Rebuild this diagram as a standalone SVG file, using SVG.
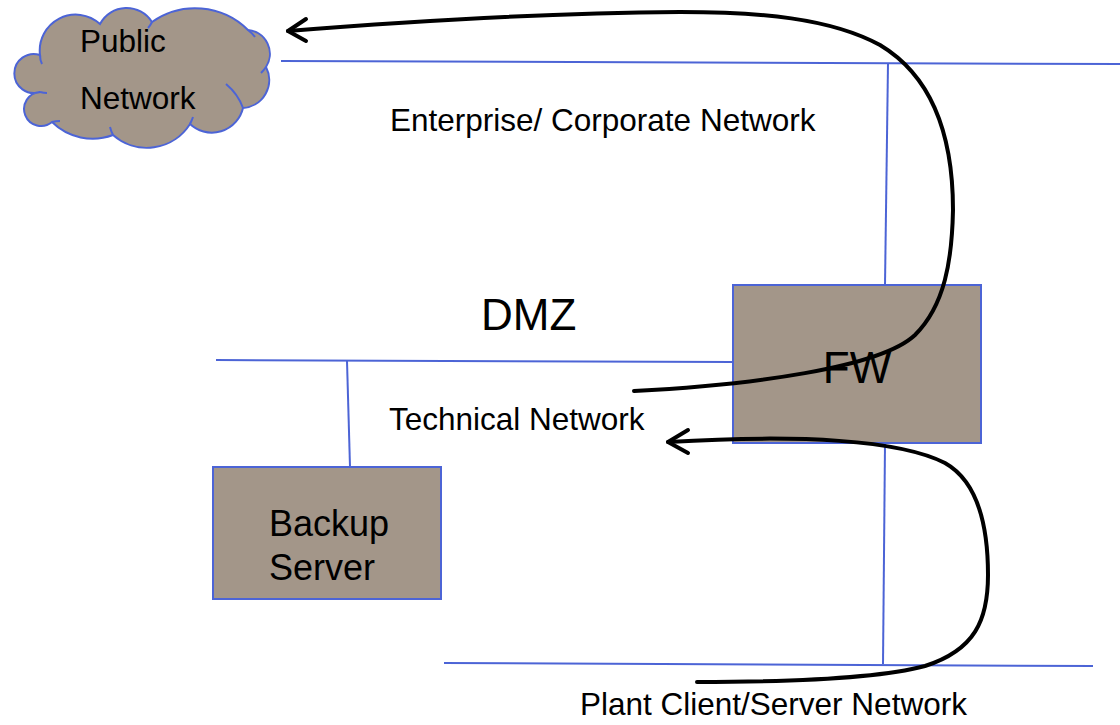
<svg xmlns="http://www.w3.org/2000/svg" width="1120" height="725" viewBox="0 0 1120 725">
<style>
.shape{fill:#A39689;stroke:#4C64D6;stroke-width:2}
.inner{fill:none;stroke:#4C64D6;stroke-width:2}
.net{fill:none;stroke:#4C64D6;stroke-width:2}
.flow{fill:none;stroke:#000;stroke-width:4;stroke-linecap:round;stroke-linejoin:round}
.t{font-family:"Liberation Sans",Arial,sans-serif;fill:#000}
.m{font-size:31.5px}
.l{font-size:44px}
.b{font-size:36px}
</style>
<rect width="1120" height="725" fill="#fff"/>
<g id="networks">
<line class="net" x1="281" y1="61" x2="1120" y2="64"/>
<line class="net" x1="888" y1="63" x2="885" y2="285"/>
<line class="net" x1="216" y1="360" x2="733" y2="362"/>
<line class="net" x1="347" y1="361" x2="350" y2="467"/>
<line class="net" x1="885" y1="444" x2="883" y2="664"/>
<line class="net" x1="444" y1="663" x2="1093" y2="666"/>
</g>
<g id="public-network">
<path class="shape" d="M40,55 A36,36 0 0 1 100,24 A30,30 0 0 1 152,22 A75,75 0 0 1 248,30 A24,24 0 0 1 266,67 A28,28 0 0 1 243,108 A32,32 0 0 1 190,124 A51,51 0 0 1 113,135 A58,58 0 0 1 52,122 A17,17 0 1 1 40,92 A19.5,19.5 0 1 1 40,55 Z"/>
<path class="inner" d="M40,55 Q40,60 42,64"/>
<path class="inner" d="M152,22 Q150,26 148,28"/>
<path class="inner" d="M248,30 Q252,33 255,37"/>
<path class="inner" d="M266,67 Q264,70 261,73"/>
<path class="inner" d="M226,84 Q238,94 243,108"/>
<path class="inner" d="M190,124 Q192,120 193,117"/>
<path class="inner" d="M113,135 Q111,131 110,127"/>
<path class="inner" d="M52,122 Q56,121 60,121"/>
<path class="inner" d="M40,92 Q44,93 47,93"/>
<text class="t m" x="80" y="52">Public</text>
<text class="t m" x="80" y="109">Network</text>
</g>
<g id="fw">
<rect class="shape" x="733" y="285" width="248" height="158"/>
<text class="t l" x="857" y="383" text-anchor="middle">FW</text>
</g>
<g id="backup-server">
<rect class="shape" x="213" y="467" width="228" height="132"/>
<text class="t b" x="269" y="536">Backup</text>
<text class="t b" x="269" y="580">Server</text>
</g>
<g id="labels">
<text class="t m" x="390" y="131">Enterprise/ Corporate Network</text>
<text class="t l" x="481" y="330">DMZ</text>
<text class="t m" x="389" y="430">Technical Network</text>
<text class="t m" x="580" y="715">Plant Client/Server Network</text>
</g>
<g id="connectors">
<path class="flow" d="M634,391 C750,385 880,368 915,335 C945,305 952,260 953,210 C953,130 930,75 880,45 C830,18 760,12 680,12 C540,13 400,22 288,31"/>
<path class="flow" d="M306,19 L288,31 L306,41"/>
<path class="flow" d="M697,682 C800,682 880,678 925,666 C975,650 988,620 988,575 C988,520 975,480 945,463 C900,440 800,434 668,442"/>
<path class="flow" d="M688,430 L668,442 L688,453"/>
</g>
</svg>
